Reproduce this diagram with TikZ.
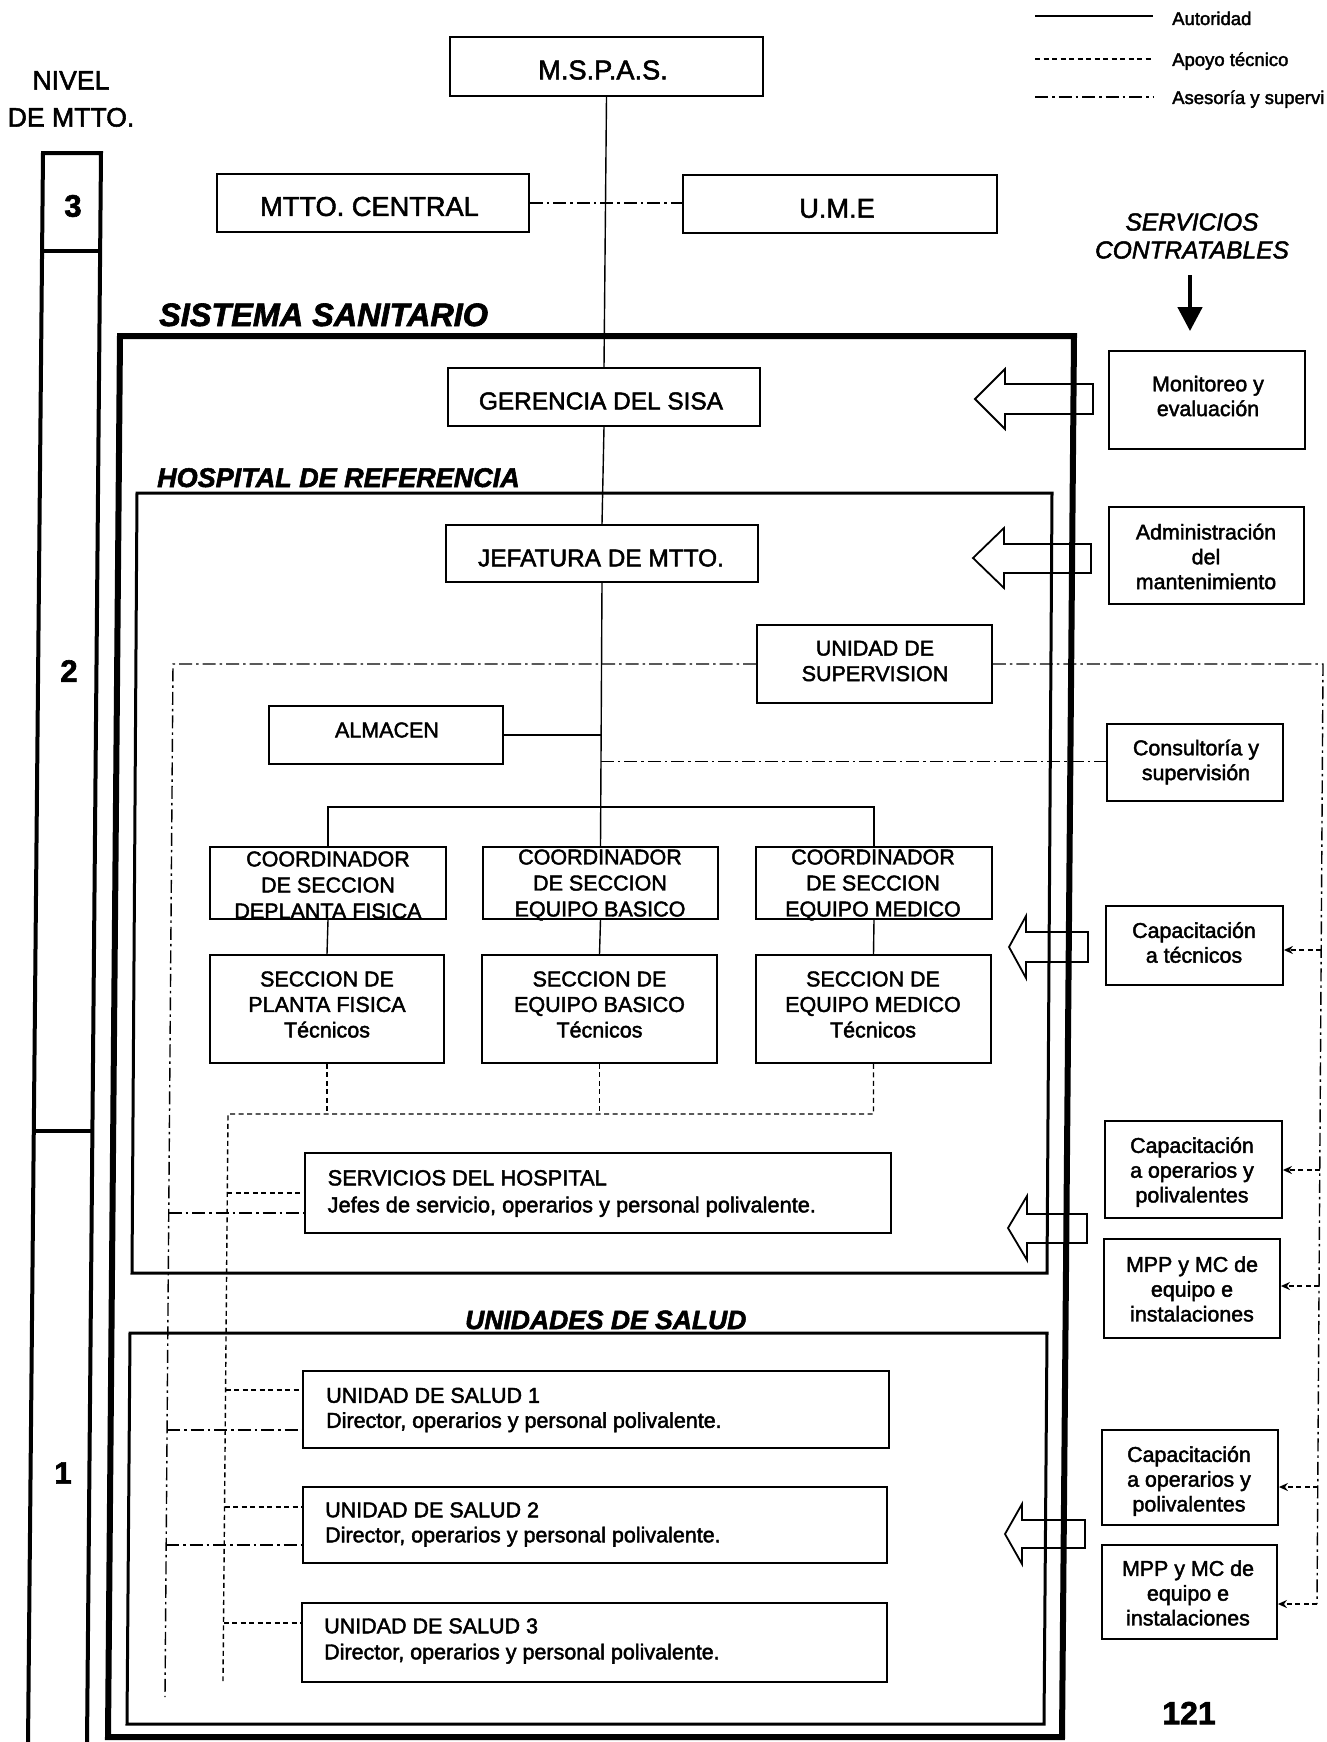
\documentclass[tikz,border=0pt]{standalone}
\usepackage{fontspec}
\setmainfont{Liberation Sans}[FakeBold=2]
\usetikzlibrary{arrows.meta,calc}
\newcommand\fs[2]{\fontsize{#1}{#2}\selectfont}
\begin{document}
\begin{tikzpicture}[x=1pt,y=-1pt,
  bx/.style={draw,line width=1.8pt,inner sep=0pt},
  tx/.style={inner sep=0pt,align=center,font=\fs{21.5}{26}},
  sidetx/.style={inner sep=0pt,align=center,font=\fs{21.4}{24.8}},
  toptx/.style={inner sep=0pt,font=\fs{27.2}{30}},
  hqtx/.style={inner sep=0pt,font=\fs{24.4}{28}},
  unittx/.style={inner sep=0pt,anchor=west,align=left,font=\fs{21.5}{25}},
  ttl/.style={anchor=base west,inner sep=0pt},
  auth/.style={line width=1.4pt},
  apoyo/.style={line width=1.4pt,dash pattern=on 5pt off 3.5pt},
  asesor/.style={line width=1.4pt,dash pattern=on 13pt off 4pt on 2.5pt off 4pt},
  blockarrow/.style={line width=1.8pt,line join=miter},
  tipsm/.style={-{Stealth[length=9pt,width=8pt]}},
  lvl/.style={font=\bfseries\fs{31}{34},inner sep=0pt},
]
\useasboundingbox[fill=white] (0,0) rectangle (1327,1742);

% ---- legend ----
\coordinate (la1) at (1035,16);  \coordinate (la2) at (1153,16);
\coordinate (lb1) at (1035,59);  \coordinate (lb2) at (1153,59);
\coordinate (lc1) at (1035,97);  \coordinate (lc2) at (1153,97);
\draw[auth] (la1) -- (la2);
\draw[apoyo] (lb1) -- (lb2);
\draw[asesor] (lc1) -- (lc2);
\node[anchor=base west,inner sep=0pt,font=\fs{18.5}{22}] (lt1) at (1172,25) {Autoridad};
\node[anchor=base west,inner sep=0pt,font=\fs{18.5}{22}] (lt2) at (1172,66) {Apoyo técnico};
\node[anchor=base west,inner sep=0pt,font=\fs{18.5}{22}] (lt3) at (1172,104) {Asesoría y supervi};

% ---- maintenance level column ----
\node[align=center,inner sep=0pt,font=\fs{26.6}{37}] (nivel) at (71,99) {NIVEL\\DE MTTO.};
\draw[line width=4pt] (28,1745) -- (43,153) -- (101,153) -- (87,1745);
\draw[line width=4pt] (42.1,251) -- (100.1,251);
\draw[line width=4pt] (33.8,1131) -- (92.4,1131);
\node[lvl] (n3) at (73,206) {3};
\node[lvl] (n2) at (69,671) {2};
\node[lvl] (n1) at (63,1473) {1};

% ---- frames ----
\draw[line width=6pt] (120,336) -- (1074,336) -- (1062,1737) -- (108,1737) -- cycle;
\draw[line width=3pt] (137,493) -- (1052,493) -- (1047,1273) -- (132,1273) -- cycle;
\draw[line width=3pt] (130,1333) -- (1047,1333) -- (1044,1724) -- (127,1724) -- cycle;
\node[ttl,font=\bfseries\itshape\fs{32.4}{34}] (tsis) at (159,326) {SISTEMA SANITARIO};
\node[ttl,font=\bfseries\itshape\fs{27}{30}] (thos) at (157,487) {HOSPITAL DE REFERENCIA};
\node[ttl,font=\bfseries\itshape\fs{26.5}{30}] (tuni) at (465,1329) {UNIDADES DE SALUD};

% ---- central organisation ----
\node[bx,minimum width=313,minimum height=59] (mspas) at (606.5,66.5) {};
\node[toptx] (mspas-t) at (603,70) {M.S.P.A.S.};
\node[bx,minimum width=312,minimum height=58] (mtto) at (373,203) {};
\node[toptx] (mtto-t) at (369.5,206.5) {MTTO. CENTRAL};
\node[bx,minimum width=314,minimum height=58] (ume) at (840,204) {};
\node[toptx] (ume-t) at (837,208.5) {U.M.E};
\node[bx,minimum width=312,minimum height=58] (geren) at (604,397) {};
\node[hqtx] (geren-t) at (601,401) {GERENCIA DEL SISA};
\node[bx,minimum width=312,minimum height=57] (jefat) at (602,553.5) {};
\node[hqtx] (jefat-t) at (601,558) {JEFATURA DE MTTO.};
\node[bx,minimum width=235,minimum height=78] (unisup) at (874.5,664) {};
\node[tx,font=\fs{21.5}{25.5}] (unisup-t) at (875,661) {UNIDAD DE\\SUPERVISION};
\node[bx,minimum width=234,minimum height=58] (almacen) at (386,735) {};
\node[tx] (almacen-t) at (387,730) {ALMACEN};

\node[bx,minimum width=236,minimum height=72] (coordL) at (328,883) {};
\node[bx,minimum width=235,minimum height=72] (coordM) at (600.5,883) {};
\node[bx,minimum width=236,minimum height=72] (coordR) at (874,883) {};
\node[tx] (coordL-t) at (328,885) {COORDINADOR\\DE SECCION\\DEPLANTA FISICA};
\node[tx] (coordM-t) at (600,885) {COORDINADOR\\DE SECCION\\EQUIPO BASICO};
\node[tx] (coordR-t) at (873,885) {COORDINADOR\\DE SECCION\\EQUIPO MEDICO};

\node[bx,minimum width=234,minimum height=108] (secL) at (327,1009) {};
\node[bx,minimum width=235,minimum height=108] (secM) at (599.5,1009) {};
\node[bx,minimum width=235,minimum height=108] (secR) at (873.5,1009) {};
\node[tx,font=\fs{21.5}{25.5}] (secL-t) at (327,1004.5) {SECCION DE\\PLANTA FISICA\\Técnicos};
\node[tx,font=\fs{21.5}{25.5}] (secM-t) at (599.5,1004.5) {SECCION DE\\EQUIPO BASICO\\Técnicos};
\node[tx,font=\fs{21.5}{25.5}] (secR-t) at (873,1004.5) {SECCION DE\\EQUIPO MEDICO\\Técnicos};

\node[bx,minimum width=586,minimum height=80] (serv) at (598,1193) {};
\node[unittx,font=\fs{21.8}{27}] (serv-t) at (327.5,1193.5) {SERVICIOS DEL HOSPITAL\\Jefes de servicio, operarios y personal polivalente.};
\node[bx,minimum width=586,minimum height=77] (us1) at (596,1409.5) {};
\node[unittx] (us1-t) at (326,1410) {UNIDAD DE SALUD 1\\Director, operarios y personal polivalente.};
\node[bx,minimum width=584,minimum height=76] (us2) at (595,1525) {};
\node[unittx] (us2-t) at (325,1524.5) {UNIDAD DE SALUD 2\\Director, operarios y personal polivalente.};
\node[bx,minimum width=585,minimum height=79] (us3) at (594.5,1642.5) {};
\node[unittx,font=\fs{21.5}{26}] (us3-t) at (324,1641) {UNIDAD DE SALUD 3\\Director, operarios y personal polivalente.};

% ---- contracted services ----
\node[align=center,inner sep=0pt,font=\itshape\fs{24.5}{28}] (servcont) at (1192,236) {SERVICIOS\\CONTRATABLES};
\node[bx,minimum width=196,minimum height=98] (monit) at (1207,400) {};
\node[sidetx] (monit-t) at (1208,396) {Monitoreo y\\evaluación};
\node[bx,minimum width=195,minimum height=97] (admin) at (1206.5,555.5) {};
\node[sidetx] (admin-t) at (1206,556.5) {Administración\\del\\mantenimiento};
\node[bx,minimum width=176,minimum height=77] (consul) at (1195,762.5) {};
\node[sidetx] (consul-t) at (1196,762) {Consultoría y\\supervisión};
\node[bx,minimum width=177,minimum height=79] (captec) at (1194.5,945.5) {};
\node[sidetx] (captec-t) at (1194,942.5) {Capacitación\\a técnicos};
\node[bx,minimum width=177,minimum height=97] (capop1) at (1193.5,1169.5) {};
\node[sidetx] (capop1-t) at (1192,1172) {Capacitación\\a operarios y\\polivalentes};
\node[bx,minimum width=176,minimum height=99] (mpp1) at (1192,1288.5) {};
\node[sidetx] (mpp1-t) at (1192,1289) {MPP y MC de\\equipo e\\instalaciones};
\node[bx,minimum width=176,minimum height=95] (capop2) at (1190,1477.5) {};
\node[sidetx] (capop2-t) at (1189,1481) {Capacitación\\a operarios y\\polivalentes};
\node[bx,minimum width=175,minimum height=94] (mpp2) at (1189.5,1592) {};
\node[sidetx] (mpp2-t) at (1188,1593) {MPP y MC de\\equipo e\\instalaciones};

\node[font=\bfseries\fs{32}{34},inner sep=0pt] (pnum) at (1189,1713) {121};

\coordinate (ctop) at (1190,275);
\draw[line width=4.5pt,-{Triangle[length=24pt,width=24pt]},shorten >=19pt] (ctop) -- (ctop |- monit.north);

% ---- block arrows from the contracted services ----
\draw[blockarrow] (975,399) -- (1005,369) -- (1005,384) -- (1093,384) -- (1093,414) -- (1005,414) -- (1005,429) -- cycle;
\draw[blockarrow] (973,558) -- (1004,528) -- (1004,544) -- (1091,544) -- (1091,573) -- (1004,573) -- (1004,588) -- cycle;
\draw[blockarrow] (1009,947) -- (1026,916) -- (1026,932) -- (1088,932) -- (1088,962) -- (1026,962) -- (1026,978) -- cycle;
\draw[blockarrow] (1008,1228) -- (1027,1196) -- (1027,1214) -- (1087,1214) -- (1087,1243) -- (1027,1243) -- (1027,1260) -- cycle;
\draw[blockarrow] (1005,1534) -- (1022,1504) -- (1022,1520) -- (1085,1520) -- (1085,1548) -- (1022,1548) -- (1022,1564) -- cycle;

% ---- authority lines ----
\draw[auth] (mspas.south) -- (geren.north);
\draw[auth] (geren.south) -- (jefat.north);
\draw[auth] (jefat.south) -- (coordM.north);
\draw[auth] (almacen.east) -- (almacen.east -| jefat.south);
\draw[auth] (coordL.north) -- ++(0,-39) -| (coordR.north);
\draw[auth] (coordL.south) -- (secL.north);
\draw[auth] (coordM.south) -- (secM.north);
\draw[auth] (coordR.south) -- (secR.north);

% ---- advice and supervision ----
\draw[asesor] (mtto.east) -- (mtto.east -| ume.west);
\coordinate (lpTL) at (173,664);  \coordinate (lpBL) at (165,1697);
\coordinate (lpTR) at (1323,664); \coordinate (lpBR) at (1317,1604);
\draw[asesor] (unisup.west) -- (lpTL) -- (lpBL);
\draw[asesor] (unisup.east) -- (lpTR) -- (lpBR);
\coordinate (jc) at ($(jefat.south)!0.679!(coordM.north)$);
\draw[asesor] (jc) -- (jc -| consul.west);
\coordinate (a1) at (168.7,1213);
\coordinate (a2) at (167,1430);
\coordinate (a3) at (166,1545);
\draw[asesor] (a1) -- (a1 -| serv.west);
\draw[asesor] (a2) -- (a2 -| us1.west);
\draw[asesor] (a3) -- (a3 -| us2.west);

% ---- technical support ----
\coordinate (dvT) at (228,1114); \coordinate (dvB) at (223,1681);
\draw[apoyo] (secR.south) |- (dvT) -- (dvB);
\draw[apoyo] (secL.south) -- (secL.south |- dvT);
\draw[apoyo] (secM.south) -- (secM.south |- dvT);
\coordinate (d1) at (227.3,1193);
\coordinate (d2) at (225.6,1390);
\coordinate (d3) at (224.5,1507);
\coordinate (d4) at (223.5,1623);
\draw[apoyo] (d1) -- (d1 -| serv.west);
\draw[apoyo] (d2) -- (d2 -| us1.west);
\draw[apoyo] (d3) -- (d3 -| us2.west);
\draw[apoyo] (d4) -- (d4 -| us3.west);

\coordinate (r1) at (1321,950);
\coordinate (r2) at (1320,1170);
\coordinate (r3) at (1319,1286);
\coordinate (r4) at (1318,1487);
\draw[apoyo,tipsm] (r1) -- (r1 -| captec.east);
\draw[apoyo,tipsm] (r2) -- (r2 -| capop1.east);
\draw[apoyo,tipsm] (r3) -- (r3 -| mpp1.east);
\draw[apoyo,tipsm] (r4) -- (r4 -| capop2.east);
\draw[apoyo,tipsm] (lpBR) -- (lpBR -| mpp2.east);
\end{tikzpicture}
\end{document}
